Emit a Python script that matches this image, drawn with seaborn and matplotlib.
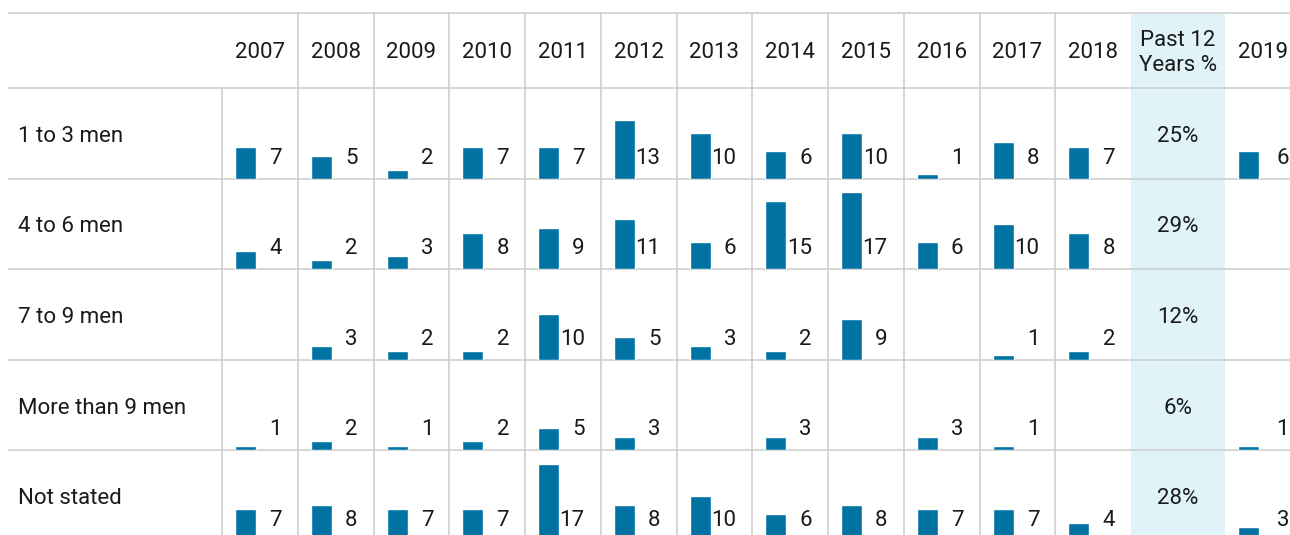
import numpy as np
import pandas as pd
import matplotlib.pyplot as plt
import seaborn as sns

sns.set_theme(style='white')
plt.rcParams['font.family'] = ['Roboto', 'DejaVu Sans']

# data
years = ['2007', '2008', '2009', '2010', '2011', '2012',
         '2013', '2014', '2015', '2016', '2017', '2018']
past_label = 'Past 12\nYears %'
next_year = '2019'
groups = ['1 to 3 men', '4 to 6 men', '7 to 9 men', 'More than 9 men', 'Not stated']

men_1_3 = [7, 5, 2, 7, 7, 13, 10, 6, 10, 1, 8, 7]
men_4_6 = [4, 2, 3, 8, 9, 11, 6, 15, 17, 6, 10, 8]
men_7_9 = [None, 3, 2, 2, 10, 5, 3, 2, 9, None, 1, 2]
men_9_plus = [1, 2, 1, 2, 5, 3, None, 3, None, 3, 1, None]
not_stated = [7, 8, 7, 7, 17, 8, 10, 6, 8, 7, 7, 4]
share_12y = ['25%', '29%', '12%', '6%', '28%']
year_2019 = [6, None, None, 1, 3]

series = [men_1_3, men_4_6, men_7_9, men_9_plus, not_stated]
rows = []
for g, vals, v19 in zip(groups, series, year_2019):
    for y, v in zip(years, vals):
        rows.append((g, y, v))
    rows.append((g, next_year, v19))
df = pd.DataFrame(rows, columns=['group', 'year', 'count'])
df['count'] = df['count'].astype(float)

# layout (pixels)
W, H = 1290, 535
top_y, head_y, row_h = 13, 88, 90.6
line_x0 = 8
first_col, col_w = 222, 75.75
past_w = 94
px_per_unit = 4.53
blue = '#0073a3'
grid_c = '#cccccc'
txt_c = '#1a1a1a'
fs = 16

col_left = {y: first_col + i * col_w for i, y in enumerate(years)}
past_left = first_col + len(years) * col_w
col_left[next_year] = past_left + past_w
df['xc'] = df['year'].map(col_left) + 13 + 10.5

fig = plt.figure(figsize=(W / 100, H / 100), dpi=100)
bg = fig.add_axes([0, 0, 1, 1])
bg.set_xlim(0, W)
bg.set_ylim(H, 0)
bg.axis('off')

# shaded summary column
bg.axvspan(past_left, past_left + past_w, ymin=0, ymax=1 - top_y / H,
           color='#e0f3f8', lw=0, zorder=0)

# grid
bottom = head_y + len(groups) * row_h
bg.hlines([top_y, head_y] + [head_y + (i + 1) * row_h for i in range(len(groups))],
          line_x0, W, color=grid_c, lw=1.1, zorder=3)
bg.vlines(first_col, head_y, bottom, color=grid_c, lw=1.1, zorder=3)
bg.vlines([col_left[y] for y in years[1:]], top_y, bottom, color=grid_c, lw=1.1, zorder=3)

# header
head_mid = (top_y + head_y) / 2 + 2.5
for y in years:
    bg.text(col_left[y] + col_w / 2, head_mid, y,
            ha='center', va='center', fontsize=fs, color=txt_c)
bg.text(col_left[next_year] + 38, head_mid, next_year,
        ha='center', va='center', fontsize=fs, color=txt_c)
bg.text(past_left + past_w / 2, head_mid, past_label,
        ha='center', va='center', fontsize=fs, color=txt_c, linespacing=1.3)

for r, g in enumerate(groups):
    r_top = head_y + r * row_h
    r_bot = r_top + row_h
    bg.text(18, r_top + row_h / 2 + 3, g, ha='left', va='center',
            fontsize=fs, color=txt_c)
    bg.text(past_left + past_w / 2, r_top + row_h / 2 + 3, share_12y[r],
            ha='center', va='center', fontsize=fs, color=txt_c)

    sub = df[df['group'] == g]
    ax = fig.add_axes([0, 1 - r_bot / H, 1, row_h / H])
    sns.barplot(data=sub, x='xc', y='count', native_scale=True,
                width=21 / col_w, color=blue, errorbar=None,
                saturation=1, ax=ax, zorder=2)
    ax.set_xlim(0, W)
    ax.set_ylim(0, row_h / px_per_unit)
    ax.patch.set_alpha(0)
    ax.axis('off')

    for _, rec in sub.dropna().iterrows():
        if rec['year'] == next_year:
            lx = W - 1
        else:
            lx = col_left[rec['year']] + col_w - 16
        bg.text(lx, r_bot - 15, f"{int(rec['count'])}", ha='right',
                va='baseline', fontsize=fs, color=txt_c)

fig.savefig('out.png', dpi=100)
